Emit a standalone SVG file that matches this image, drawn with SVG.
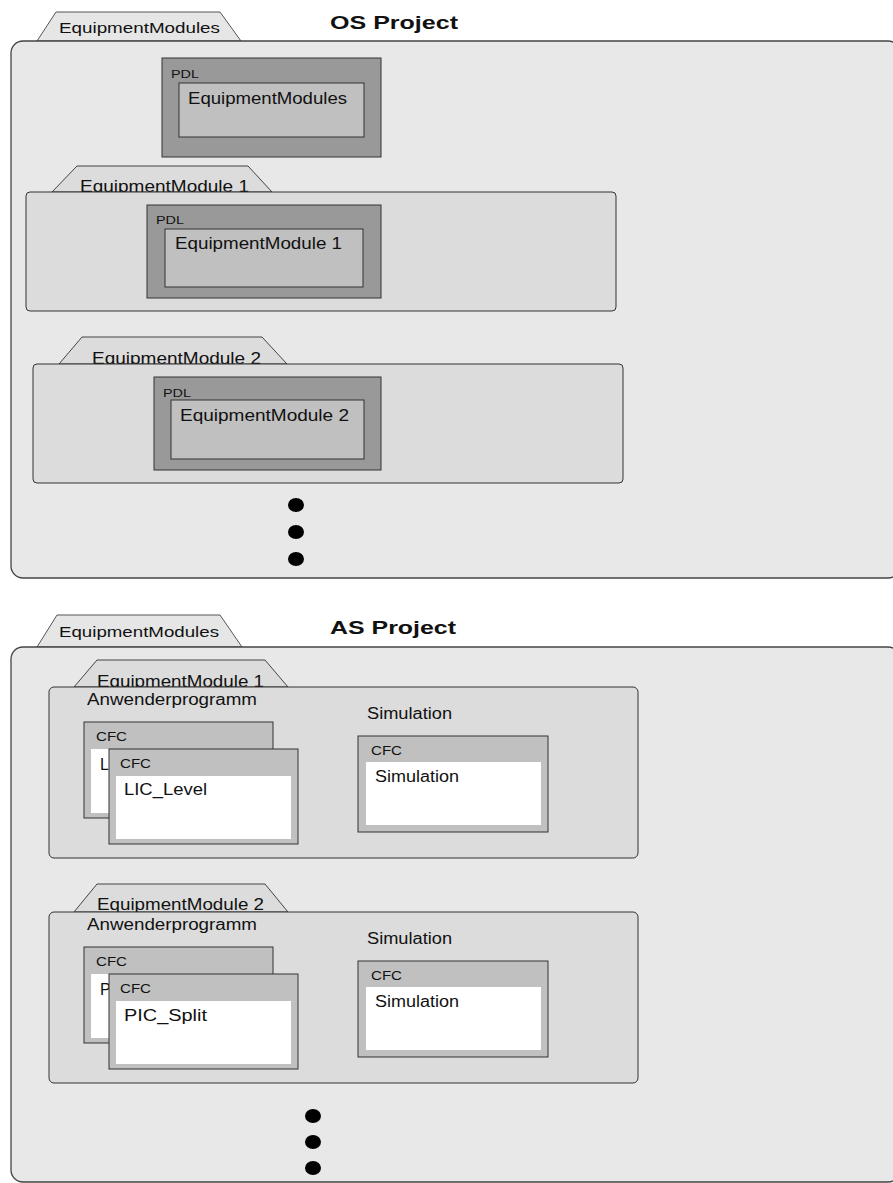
<svg xmlns="http://www.w3.org/2000/svg" width="893" height="1183" viewBox="0 0 893 1183">
<style>
text{font-family:"Liberation Sans",Arial,sans-serif;fill:#111}
.outer{fill:#e8e8e8;stroke:#444;stroke-width:1.3}
.tab{fill:#e6e6e6;stroke:#555;stroke-width:1}
.tab2{fill:#dcdcdc;stroke:#444;stroke-width:1}
.em{fill:#dcdcdc;stroke:#333;stroke-width:1}
.pdlo{fill:#999;stroke:#333;stroke-width:1}
.pdli{fill:#c0c0c0;stroke:#333;stroke-width:1}
.cfc{fill:#c0c0c0;stroke:#333;stroke-width:1}
.wht{fill:#fff}
.t15{font-size:15px}
.t16{font-size:16px}
.t17{font-size:17px}
.t11{font-size:11px}
.t12{font-size:12px}
.b{font-size:18px;font-weight:bold}
.dot{fill:#000}
</style>
<g id="os-project">
  <polygon class="tab" points="37,41 56,12 220,12 241,41"/>
  <text class="t15" x="59" y="33" textLength="161" lengthAdjust="spacingAndGlyphs">EquipmentModules</text>
  <text class="b" x="330" y="29" textLength="128" lengthAdjust="spacingAndGlyphs">OS Project</text>
  <rect class="outer" x="11" y="41" width="889" height="537" rx="12"/>
</g>
<g id="os-pdl-modules">
  <rect class="pdlo" x="162" y="58" width="219" height="99"/>
  <text class="t11" x="171" y="78" textLength="28" lengthAdjust="spacingAndGlyphs">PDL</text>
  <rect class="pdli" x="179" y="83" width="185" height="54"/>
  <text class="t16" x="188" y="104" textLength="159" lengthAdjust="spacingAndGlyphs">EquipmentModules</text>
</g>
<g id="os-em1">
  <polygon class="tab2" points="52,192 77,166 248,166 272,192"/>
  <text class="t17" x="80" y="192" textLength="169" lengthAdjust="spacingAndGlyphs">EquipmentModule 1</text>
  <rect class="em" x="26" y="192" width="590" height="119" rx="4"/>
  <rect class="pdlo" x="147" y="205" width="234" height="93"/>
  <text class="t11" x="156" y="224" textLength="28" lengthAdjust="spacingAndGlyphs">PDL</text>
  <rect class="pdli" x="165" y="229" width="198" height="58"/>
  <text class="t16" x="175" y="249" textLength="167" lengthAdjust="spacingAndGlyphs">EquipmentModule 1</text>
</g>
<g id="os-em2">
  <polygon class="tab2" points="59,364 82,337 262,337 287,364"/>
  <text class="t17" x="92" y="364" textLength="169" lengthAdjust="spacingAndGlyphs">EquipmentModule 2</text>
  <rect class="em" x="33" y="364" width="590" height="119" rx="4"/>
  <rect class="pdlo" x="154" y="377" width="227" height="93"/>
  <text class="t11" x="163" y="397" textLength="28" lengthAdjust="spacingAndGlyphs">PDL</text>
  <rect class="pdli" x="171" y="400" width="193" height="59"/>
  <text class="t16" x="180" y="421" textLength="169" lengthAdjust="spacingAndGlyphs">EquipmentModule 2</text>
</g>
<g id="os-dots">
  <ellipse class="dot" cx="296" cy="505" rx="8" ry="7"/>
  <ellipse class="dot" cx="296" cy="532" rx="8" ry="7"/>
  <ellipse class="dot" cx="296" cy="559" rx="8" ry="7"/>
</g>
<g id="as-project">
  <polygon class="tab" points="37,647 57,615 220,615 242,647"/>
  <text class="t15" x="59" y="637" textLength="160" lengthAdjust="spacingAndGlyphs">EquipmentModules</text>
  <text class="b" x="330" y="634" textLength="126" lengthAdjust="spacingAndGlyphs">AS Project</text>
  <rect class="outer" x="11" y="647" width="889" height="535" rx="12"/>
</g>
<g id="as-em1">
  <polygon class="tab2" points="74,687 97,660 265,660 288,687"/>
  <text class="t17" x="97" y="687" textLength="167" lengthAdjust="spacingAndGlyphs">EquipmentModule 1</text>
  <rect class="em" x="49" y="687" width="589" height="171" rx="5"/>
  <text class="t16" x="87" y="705" textLength="170" lengthAdjust="spacingAndGlyphs">Anwenderprogramm</text>
  <text class="t16" x="367" y="719" textLength="85" lengthAdjust="spacingAndGlyphs">Simulation</text>
  <rect class="cfc" x="84" y="722" width="189" height="96"/>
  <text class="t12" x="96" y="741" textLength="31" lengthAdjust="spacingAndGlyphs">CFC</text>
  <rect class="wht" x="91" y="749" width="20" height="64"/>
  <text class="t16" x="100" y="770">L</text>
  <rect class="cfc" x="109" y="749" width="189" height="95"/>
  <text class="t12" x="120" y="768" textLength="31" lengthAdjust="spacingAndGlyphs">CFC</text>
  <rect class="wht" x="116" y="776" width="175" height="63"/>
  <text class="t16" x="124" y="795" textLength="83" lengthAdjust="spacingAndGlyphs">LIC_Level</text>
  <rect class="cfc" x="358" y="736" width="190" height="96"/>
  <text class="t12" x="371" y="755" textLength="31" lengthAdjust="spacingAndGlyphs">CFC</text>
  <rect class="wht" x="366" y="762" width="175" height="63"/>
  <text class="t16" x="375" y="782" textLength="84" lengthAdjust="spacingAndGlyphs">Simulation</text>
</g>
<g id="as-em2">
  <polygon class="tab2" points="74,912 97,884 265,884 288,912"/>
  <text class="t17" x="97" y="910" textLength="167" lengthAdjust="spacingAndGlyphs">EquipmentModule 2</text>
  <rect class="em" x="49" y="912" width="589" height="171" rx="5"/>
  <text class="t16" x="87" y="930" textLength="170" lengthAdjust="spacingAndGlyphs">Anwenderprogramm</text>
  <text class="t16" x="367" y="944" textLength="85" lengthAdjust="spacingAndGlyphs">Simulation</text>
  <rect class="cfc" x="84" y="947" width="189" height="96"/>
  <text class="t12" x="96" y="966" textLength="31" lengthAdjust="spacingAndGlyphs">CFC</text>
  <rect class="wht" x="91" y="974" width="20" height="64"/>
  <text class="t16" x="100" y="995">P</text>
  <rect class="cfc" x="109" y="974" width="189" height="95"/>
  <text class="t12" x="120" y="993" textLength="31" lengthAdjust="spacingAndGlyphs">CFC</text>
  <rect class="wht" x="116" y="1001" width="175" height="63"/>
  <text class="t16" x="124" y="1021" textLength="83" lengthAdjust="spacingAndGlyphs">PIC_Split</text>
  <rect class="cfc" x="358" y="961" width="190" height="96"/>
  <text class="t12" x="371" y="980" textLength="31" lengthAdjust="spacingAndGlyphs">CFC</text>
  <rect class="wht" x="366" y="987" width="175" height="63"/>
  <text class="t16" x="375" y="1007" textLength="84" lengthAdjust="spacingAndGlyphs">Simulation</text>
</g>
<g id="as-dots">
  <ellipse class="dot" cx="313" cy="1116" rx="8" ry="7"/>
  <ellipse class="dot" cx="313" cy="1142" rx="8" ry="7"/>
  <ellipse class="dot" cx="313" cy="1168" rx="8" ry="7"/>
</g>
<g id="connectors"></g>
</svg>
